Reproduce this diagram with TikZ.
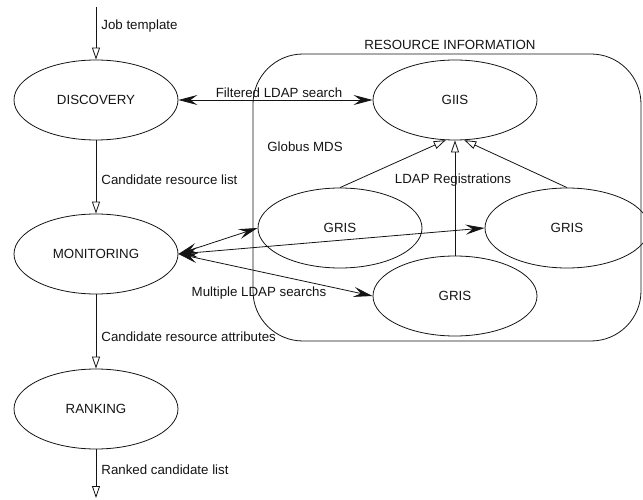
\documentclass[tikz,border=0pt]{standalone}
\usepackage{fontspec}
\setmainfont{Liberation Sans}
\usetikzlibrary{arrows.meta,shapes.geometric}
\definecolor{DiagramInk}{gray}{0.08}
\tikzset{
  diagram/.style={x=1pt,y=-1pt,font=\fontsize{13.3}{16}\selectfont,text=DiagramInk,line width=0.8pt},
  stage/.style={draw=DiagramInk,ellipse,minimum width=164pt,minimum height=80pt,inner sep=0pt},
  tag/.style={inner sep=0pt},
  handoff/.style={-{Triangle[open,length=12pt,width=8pt]},draw=DiagramInk},
  lookup/.style={{Stealth[length=19pt,width=10pt,inset=7pt]}-{Stealth[length=19pt,width=10pt,inset=7pt]},draw=DiagramInk},
}

\begin{document}
\begin{tikzpicture}[diagram]
  \useasboundingbox (0,0) rectangle (643,500);

  % resource information box
  \node[draw=DiagramInk,rounded corners=50pt,minimum width=388pt,minimum height=287pt] (mds) at (447,197.5) {};
  \node[tag] (mdstitle) at (450,45) {RESOURCE INFORMATION};
  \node[tag] (globus) at (305,147) {Globus MDS};

  % broker stages
  \node[stage] (discovery) at (96,100) {DISCOVERY};
  \node[stage] (monitoring) at (96,254) {MONITORING};
  \node[stage] (ranking) at (96,409) {RANKING};
  \coordinate (jobin) at (96,7);
  \coordinate (rankout) at (96,498);

  % information services
  \node[stage] (giis) at (455,100) {GIIS};
  \node[stage] (grisleft) at (340,228) {GRIS};
  \node[stage] (grisright) at (567,228) {GRIS};
  \node[stage] (grisbottom) at (455,296) {GRIS};

  \draw[handoff] (jobin) -- (discovery.north);
  \draw[handoff] (discovery.south) -- (monitoring.north);
  \draw[handoff] (monitoring.south) -- (ranking.north);
  \draw[handoff] (ranking.south) -- (rankout);
  \node[tag,anchor=west] (jobtag) at (101,26) {Job template};
  \node[tag,anchor=west] (listtag) at (101,180) {Candidate resource list};
  \node[tag,anchor=west] (attrtag) at (101,337) {Candidate resource attributes};
  \node[tag,anchor=west] (ranktag) at (101,470) {Ranked candidate list};

  \draw[lookup] (discovery.east) -- (giis.west);
  \node[tag] (filtertag) at (279,93) {Filtered LDAP search};

  \draw[lookup] (monitoring.east) -- (grisleft.west);
  \draw[lookup] (monitoring.east) -- (grisright.west);
  \draw[lookup] (monitoring.east) -- (grisbottom.west);
  \node[tag] (multitag) at (259,293) {Multiple LDAP searchs};

  \draw[handoff] (grisleft.north) -- (giis.-103);
  \draw[handoff] (grisbottom.north) -- (giis.south);
  \draw[handoff] (grisright.north) -- (giis.-77);
  \node[tag] (regtag) at (453,180) {LDAP Registrations};
\end{tikzpicture}
\end{document}
